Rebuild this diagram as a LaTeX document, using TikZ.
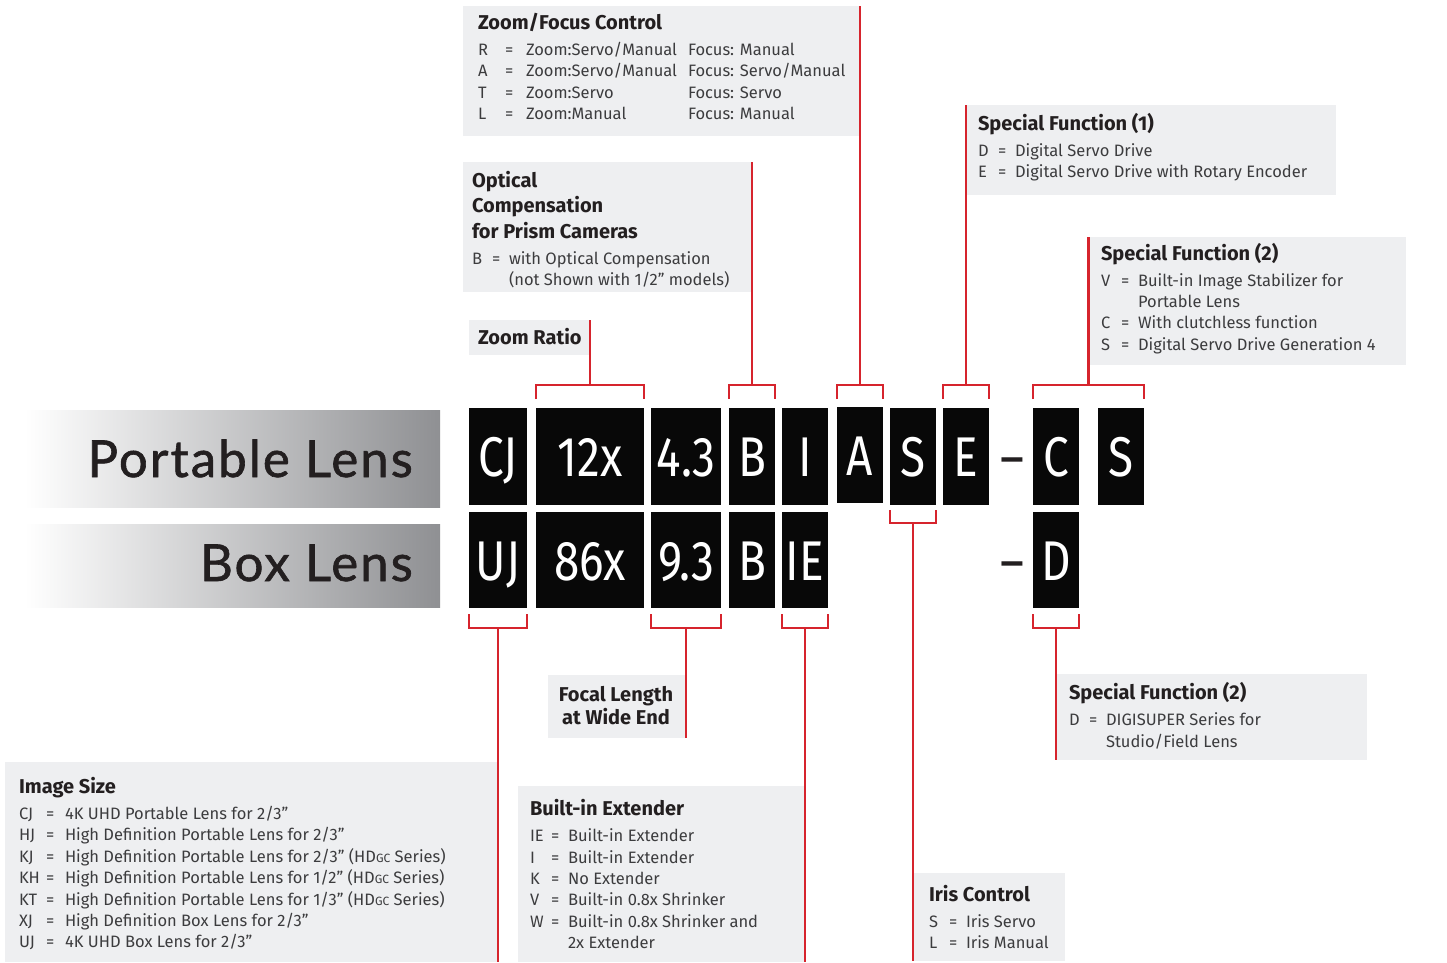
\documentclass[tikz,border=0pt]{standalone}
\usepackage{fontspec}
\setmainfont{Fira Sans}
\newfontfamily\bodyf{Fira Sans}
\newfontfamily\boxf{Fira Sans}[FakeStretch=0.82]
\newfontfamily\bigf{Lato}[LetterSpace=4, FakeBold=1.2]
\usetikzlibrary{calc}
\definecolor{lred}{RGB}{214,36,45}
\definecolor{boxgray}{RGB}{238,239,241}
\definecolor{ink}{RGB}{35,31,32}
\definecolor{bodyink}{RGB}{60,60,62}
\definecolor{barg}{RGB}{143,144,147}
\newcommand\smc[1]{{\fontsize{12}{12}\selectfont #1}}
\newcommand\infoline[7]{%
  \node[body] (#1c) at (#2,#5) {#6};
  \node[body] (#1e) at (#3,#5) {=};
  \node[body] (#1t) at (#4,#5) {#7};}
\newcommand\blkbox[6]{\node[blk, minimum width=#4pt, minimum height=#5pt] (#1) at (#2,#3) {#6};}
\tikzset{
  body/.style={anchor=base west, inner sep=0, outer sep=0, text=bodyink, font=\bodyf\fontsize{16.5}{16.5}\selectfont},
  ttl/.style={anchor=base west, inner sep=0, outer sep=0, text=ink, font=\bodyf\bfseries\fontsize{20}{20}\selectfont},
  info/.style={fill=boxgray, draw=none, inner sep=0, outer sep=0, anchor=north west},
  blk/.style={fill=black!97, text=white, inner sep=0, outer sep=0, font=\boxf\fontsize{56}{56}\selectfont, text height=40pt, text depth=0pt},
  dashn/.style={anchor=base, inner sep=0, text=ink, font=\boxf\fontsize{56}{56}\selectfont},
  bar/.style={left color=white, right color=barg, draw=none, inner sep=0, outer sep=0, anchor=north east},
  biglbl/.style={anchor=base east, inner sep=0, text=ink, font=\bigf\fontsize{51}{51}\selectfont},
  conn/.style={draw=lred, line width=2.6pt}
}
\begin{document}
\begin{tikzpicture}[x=1pt,y=-1pt]
\useasboundingbox (0,0) rectangle (1447,962);

% gradient bars with labels
\node[bar, minimum width=415pt, minimum height=97pt] (bar1) at (440,410) {};
\node[bar, minimum width=415pt, minimum height=83pt] (bar2) at (440,524) {};
\node[biglbl] (pl) at (413,477) {Portable Lens};
\node[biglbl] (bl) at (413,581) {Box Lens};

% info boxes
\node[info, minimum width=397pt, minimum height=130pt] (zf) at (463,6) {};
\node[info, minimum width=289pt, minimum height=130pt] (opt) at (463,162) {};
\node[info, minimum width=121pt, minimum height=35pt] (zr) at (469,320) {};
\node[info, minimum width=370pt, minimum height=90pt] (sf1) at (966,105) {};
\node[info, minimum width=317.5pt, minimum height=128pt] (sf2) at (1088.5,237) {};
\node[info, minimum width=138pt, minimum height=63pt] (foc) at (548,675) {};
\node[info, minimum width=311pt, minimum height=86pt] (sfd) at (1056,674) {};
\node[info, minimum width=493pt, minimum height=200pt] (img) at (5,762) {};
\node[info, minimum width=287pt, minimum height=176pt] (ext) at (518,786) {};
\node[info, minimum width=152pt, minimum height=88pt] (iris) at (913,873) {};

% Zoom/Focus Control
\node[ttl] (zft) at (478,29) {Zoom/Focus Control};
\infoline{zfa}{478}{505}{526}{55}{R}{Zoom:Servo/Manual}
\node[body] (zfaf) at (688,55) {Focus: Manual};
\infoline{zfb}{478}{505}{526}{76}{A}{Zoom:Servo/Manual}
\node[body] (zfbf) at (688,76) {Focus: Servo/Manual};
\infoline{zfc}{478}{505}{526}{98}{T}{Zoom:Servo}
\node[body] (zfcf) at (688,98) {Focus: Servo};
\infoline{zfd}{478}{505}{526}{119}{L}{Zoom:Manual}
\node[body] (zfdf) at (688,119) {Focus: Manual};

% Optical compensation
\node[ttl] (opt1) at (472,187) {Optical};
\node[ttl] (opt2) at (472,212) {Compensation};
\node[ttl] (opt3) at (472,238) {for Prism Cameras};
\infoline{opa}{472}{492}{509}{264}{B}{with Optical Compensation}
\node[body] (opb) at (509,285) {(not Shown with 1/2” models)};

% Zoom ratio
\node[ttl] (zrt) at (478,344) {Zoom Ratio};

% Special Function (1)
\node[ttl] (sf1t) at (978,130) {Special Function (1)};
\infoline{sfa}{978}{998}{1015}{156}{D}{Digital Servo Drive}
\infoline{sfb}{978}{998}{1015}{177}{E}{Digital Servo Drive with Rotary Encoder}

% Special Function (2)
\node[ttl] (sf2t) at (1101,260) {Special Function (2)};
\infoline{sga}{1101}{1121}{1138}{286}{V}{Built-in Image Stabilizer for}
\node[body] (sgb) at (1138,307) {Portable Lens};
\infoline{sgc}{1101}{1121}{1138}{328}{C}{With clutchless function}
\infoline{sgd}{1101}{1121}{1138}{350}{S}{Digital Servo Drive Generation 4}

% Focal length
\node[ttl, anchor=base] (foc1) at (616,701) {Focal Length};
\node[ttl, anchor=base] (foc2) at (616,724) {at Wide End};

% Special Function (2) D
\node[ttl] (sfdt) at (1069,699) {Special Function (2)};
\infoline{sda}{1069}{1089}{1106}{725}{D}{DIGISUPER Series for}
\node[body] (sdb) at (1106,747) {Studio/Field Lens};

% Image size
\node[ttl] (imgt) at (19,793) {Image Size};
\infoline{ima}{19}{46}{65}{819}{CJ}{4K UHD Portable Lens for 2/3”}
\infoline{imb}{19}{46}{65}{840}{HJ}{High Definition Portable Lens for 2/3”}
\infoline{imc}{19}{46}{65}{862}{KJ}{High Definition Portable Lens for 2/3” (HD\smc{GC} Series)}
\infoline{imd}{19}{46}{65}{883}{KH}{High Definition Portable Lens for 1/2” (HD\smc{GC} Series)}
\infoline{ime}{19}{46}{65}{905}{KT}{High Definition Portable Lens for 1/3” (HD\smc{GC} Series)}
\infoline{imf}{19}{46}{65}{926}{XJ}{High Definition Box Lens for 2/3”}
\infoline{img}{19}{46}{65}{947}{UJ}{4K UHD Box Lens for 2/3”}

% Built-in extender
\node[ttl] (extt) at (530,815) {Built-in Extender};
\infoline{exa}{530}{551}{568}{841}{IE}{Built-in Extender}
\infoline{exb}{530}{551}{568}{863}{I}{Built-in Extender}
\infoline{exc}{530}{551}{568}{884}{K}{No Extender}
\infoline{exd}{530}{551}{568}{905}{V}{Built-in 0.8x Shrinker}
\infoline{exe}{530}{551}{568}{927}{W}{Built-in 0.8x Shrinker and}
\node[body] (exf) at (568,948) {2x Extender};

% Iris control
\node[ttl] (irt) at (929,901) {Iris Control};
\infoline{ira}{929}{949}{966}{927}{S}{Iris Servo}
\infoline{irb}{929}{949}{966}{948}{L}{Iris Manual}

% black code boxes, row 1
\blkbox{rCJ}{498}{456.5}{58}{97}{CJ}
\blkbox{r12}{590}{456.5}{108}{97}{12x}
\blkbox{r43}{686}{456.5}{70}{97}{4.3}
\blkbox{rB}{752}{456.5}{46}{97}{B}
\blkbox{rI}{805}{456.5}{46}{97}{I}
\blkbox{rA}{860}{455}{46}{96}{A}
\blkbox{rS}{913}{456.5}{46}{97}{S}
\blkbox{rE}{966}{456.5}{46}{97}{E}
\blkbox{rC}{1056}{456.5}{46}{97}{C}
\blkbox{rS2}{1121}{456.5}{46}{97}{S}
% row 2
\blkbox{rUJ}{498}{560}{58}{96}{UJ}
\blkbox{r86}{590}{560}{108}{96}{86x}
\blkbox{r93}{686}{560}{70}{96}{9.3}
\blkbox{rB2}{752}{560}{46}{96}{B}
\blkbox{rIE}{805}{560}{46}{96}{IE}
\blkbox{rD}{1056}{560}{46}{96}{D}
\node[dashn] (dash1) at (1012,477) {–};
\node[dashn] (dash2) at (1012,581) {–};

% connectors, top
\draw[conn] ([yshift=9pt]r12.north west) |- ([yshift=23pt]r12.north) -| ([yshift=9pt]r12.north east);
\draw[conn] ([yshift=23pt]r12.north) -- (zr.north east);
\draw[conn] ([yshift=9pt]rB.north west) |- ([yshift=23pt]rB.north) -| ([yshift=9pt]rB.north east);
\draw[conn] ([yshift=23pt]rB.north) -- (opt.north east);
\draw[conn] ([yshift=8pt]rA.north west) |- ([yshift=22pt]rA.north) -| ([yshift=8pt]rA.north east);
\draw[conn] ([yshift=22pt]rA.north) -- (zf.north east);
\draw[conn] ([yshift=9pt]rE.north west) |- ([yshift=23pt]rE.north) -| ([yshift=9pt]rE.north east);
\draw[conn] ([yshift=23pt]rE.north) -- (sf1.north west);
\coordinate (csm) at ($(rC.north west)!0.5!(rS2.north east)+(0,-23)$);
\draw[conn] ([yshift=9pt]rC.north west) |- (csm) -| ([yshift=9pt]rS2.north east);
\draw[conn] (csm) -- (sf2.north west);

% connectors, bottom
\draw[conn] ([yshift=-6pt]rUJ.south west) |- ([yshift=-20pt]rUJ.south) -| ([yshift=-6pt]rUJ.south east);
\draw[conn] ([yshift=-20pt]rUJ.south) -- (img.south east);
\draw[conn] ([yshift=-6pt]r93.south west) |- ([yshift=-20pt]r93.south) -| ([yshift=-6pt]r93.south east);
\draw[conn] ([yshift=-20pt]r93.south) -- (foc.south east);
\draw[conn] ([yshift=-6pt]rIE.south west) |- ([yshift=-20pt]rIE.south) -| ([yshift=-6pt]rIE.south east);
\draw[conn] ([yshift=-20pt]rIE.south) -- (ext.south east);
\draw[conn] ([yshift=-5pt]rS.south west) |- ([yshift=-18pt]rS.south) -| ([yshift=-5pt]rS.south east);
\draw[conn] ([yshift=-18pt]rS.south) -- (iris.south west);
\draw[conn] ([yshift=-6pt]rD.south west) |- ([yshift=-20pt]rD.south) -| ([yshift=-6pt]rD.south east);
\draw[conn] ([yshift=-20pt]rD.south) -- (sfd.south west);
\end{tikzpicture}
\end{document}
